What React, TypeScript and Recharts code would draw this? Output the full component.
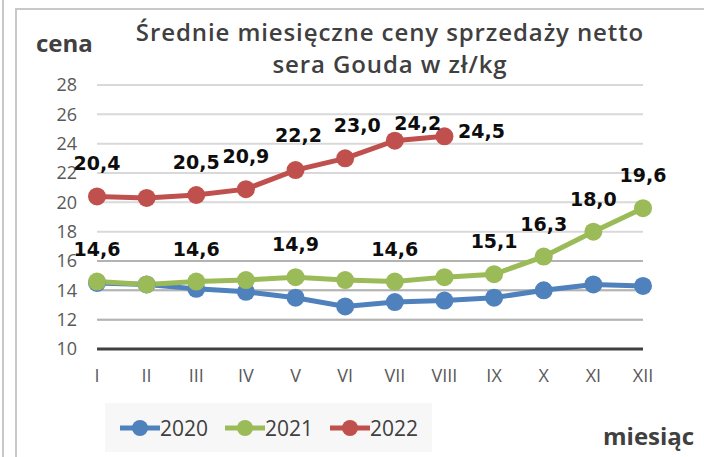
import React from "react";
import {
  CartesianGrid,
  Legend,
  Line,
  LineChart,
  ReferenceLine,
  XAxis,
  YAxis,
} from "recharts";

const MONTHS = ["I", "II", "III", "IV", "V", "VI", "VII", "VIII", "IX", "X", "XI", "XII"];

const PRICES_2020 = [14.5, 14.4, 14.1, 13.9, 13.5, 12.9, 13.2, 13.3, 13.5, 14.0, 14.4, 14.3];
const PRICES_2021 = [14.6, 14.4, 14.6, 14.7, 14.9, 14.7, 14.6, 14.9, 15.1, 16.3, 18.0, 19.6];
const PRICES_2022 = [20.4, 20.3, 20.5, 20.9, 22.2, 23.0, 24.2, 24.5];

// months that carry a data label in the original
const LABELLED_2021 = ["I", "III", "V", "VII", "IX", "X", "XI", "XII"];
const LABELLED_2022 = ["I", "III", "IV", "V", "VI", "VII", "VIII"];

const Y_TICKS = [10, 12, 14, 16, 18, 20, 22, 24, 26, 28];

const SERIES = [
  { key: "y2020", name: "2020", colour: "#4f81bd" },
  { key: "y2021", name: "2021", colour: "#9bbb59" },
  { key: "y2022", name: "2022", colour: "#c0504d" },
];

const rows = MONTHS.map((m, i) => ({
  month: m,
  y2020: PRICES_2020[i],
  y2021: PRICES_2021[i],
  y2022: i < PRICES_2022.length ? PRICES_2022[i] : null,
}));

// label nudges (px) where Excel had them dragged off the default "above" spot
const LABEL_NUDGE: Record<string, [number, number]> = {
  "2022-V": [3, -2],
  "2022-VI": [12, 0],
  "2022-VII": [23, 15],
  "2022-VIII": [37, 28],
};

const fmt = (v: number) => v.toFixed(1).replace(".", ",");

function makeLabel(year: string, labelled: string[]) {
  return (props: any) => {
    const { x, y, value, index } = props;
    const month = MONTHS[index];
    if (value == null || !labelled.includes(month)) return null;
    const [dx, dy] = LABEL_NUDGE[`${year}-${month}`] ?? [0, 0];
    return (
      <text
        key={`${year}-${month}`}
        x={x + dx}
        y={y - 33 + dy}
        dy={7}
        textAnchor="middle"
        fontFamily="DejaVu Sans"
        fontWeight="bold"
        fontSize={19}
        fill="#0d0d0d"
      >
        {fmt(value)}
      </text>
    );
  };
}

const LegendBox = () => (
  <div
    style={{
      display: "flex",
      alignItems: "center",
      justifyContent: "center",
      gap: 16,
      width: "100%",
      height: "100%",
      background: "#f7f7f7",
      fontFamily: "Open Sans",
      fontSize: 21,
      color: "#404040",
    }}
  >
    {SERIES.map((s) => (
      <div key={s.key} style={{ display: "flex", alignItems: "center" }}>
        <svg width={41} height={20}>
          <line x1={1} y1={10} x2={41} y2={10} stroke={s.colour} strokeWidth={5} />
          <circle cx={21} cy={10} r={8} fill={s.colour} />
        </svg>
        <span>{s.name}</span>
      </div>
    ))}
  </div>
);

export default function App() {
  return (
    <div
      style={{
        position: "absolute",
        left: 0,
        top: 0,
        width: 704,
        height: 457,
        background: "#fff",
        overflow: "hidden",
      }}
    >
      <div style={{ position: "absolute", left: 2, top: 0, width: 2, height: 457, background: "#c8c8c8" }} />
      <div
        style={{
          position: "absolute",
          left: 15,
          top: 8,
          width: 720,
          height: 480,
          border: "2px solid #c8c8c8",
        }}
      />
      <div
        style={{
          position: "absolute",
          left: 0,
          top: 16,
          width: 780,
          textAlign: "center",
          fontFamily: "Open Sans",
          fontWeight: 600,
          fontSize: 24,
          lineHeight: "32px",
          letterSpacing: 0.9,
          color: "#404040",
        }}
      >
        Średnie miesięczne ceny sprzedaży netto
        <br />
        sera Gouda w zł/kg
      </div>
      <div
        style={{
          position: "absolute",
          left: 36,
          top: 26,
          fontFamily: "Open Sans",
          fontWeight: 700,
          fontSize: 24,
          color: "#404040",
        }}
      >
        cena
      </div>
      <div
        style={{
          position: "absolute",
          left: 603,
          top: 419,
          fontFamily: "Open Sans",
          fontWeight: 700,
          fontSize: 24,
          color: "#404040",
        }}
      >
        miesiąc
      </div>
      <LineChart
        width={704}
        height={457}
        data={rows}
        margin={{ top: 85, right: 61, bottom: 68, left: 0 }}
        style={{ position: "absolute", left: 0, top: 0 }}
      >
        <CartesianGrid vertical={false} stroke="#d9d9d9" strokeWidth={2} />
        {[12, 14, 16].map((v) => (
          <ReferenceLine key={v} y={v} stroke="#b3b3b3" strokeWidth={2} />
        ))}
        <XAxis
          dataKey="month"
          height={40}
          axisLine={{ stroke: "#404040", strokeWidth: 3 }}
          tickLine={false}
          tickSize={0}
          tickMargin={20}
          interval={0}
          tick={{ fill: "#595959", fontSize: 18, fontFamily: "Open Sans" }}
        />
        <YAxis
          width={97}
          domain={[10, 28]}
          ticks={Y_TICKS}
          axisLine={false}
          tickLine={false}
          tickSize={0}
          tickMargin={20}
          tick={{ fill: "#595959", fontSize: 18, fontFamily: "Open Sans" }}
        />
        <Legend
          layout="horizontal"
          verticalAlign="middle"
          align="center"
          wrapperStyle={{ left: 105, top: 403, width: 327, height: 49 }}
          content={() => <LegendBox />}
        />
        <Line
          dataKey="y2020"
          name="2020"
          stroke="#4f81bd"
          strokeWidth={5}
          dot={{ r: 9, fill: "#4f81bd", stroke: "none" }}
          isAnimationActive={false}
        />
        <Line
          dataKey="y2021"
          name="2021"
          stroke="#9bbb59"
          strokeWidth={5}
          dot={{ r: 9, fill: "#9bbb59", stroke: "none" }}
          label={makeLabel("2021", LABELLED_2021)}
          isAnimationActive={false}
        />
        <Line
          dataKey="y2022"
          name="2022"
          stroke="#c0504d"
          strokeWidth={5}
          dot={{ r: 9, fill: "#c0504d", stroke: "none" }}
          label={makeLabel("2022", LABELLED_2022)}
          isAnimationActive={false}
        />
      </LineChart>
    </div>
  );
}
